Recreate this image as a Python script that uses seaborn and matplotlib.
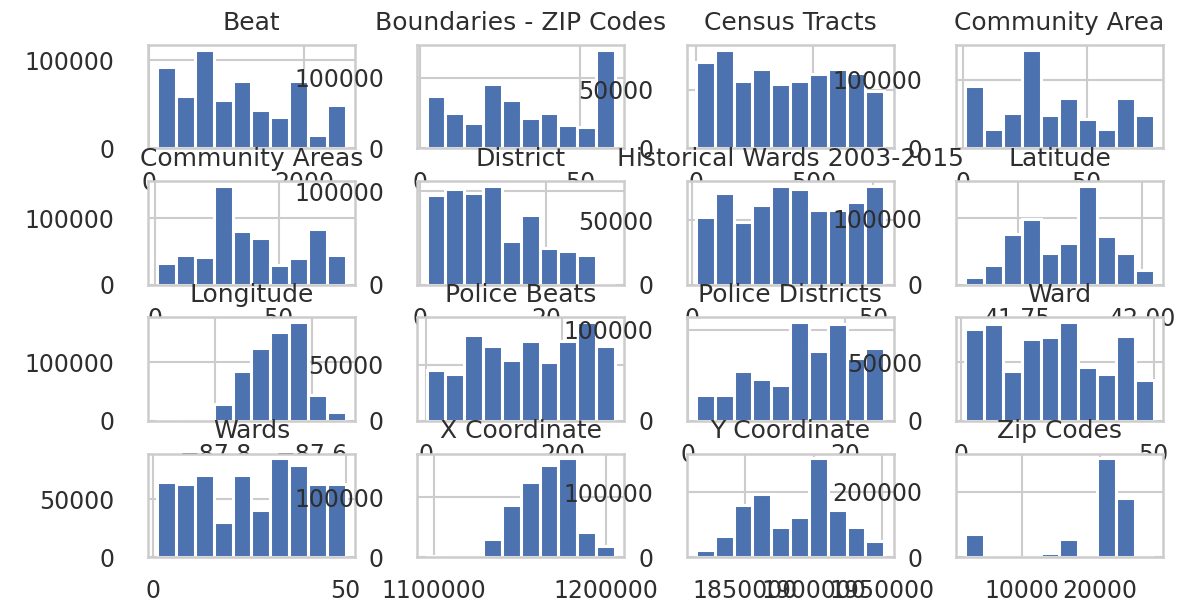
import numpy as np
import pandas as pd
import matplotlib
matplotlib.use("Agg")
import matplotlib.pyplot as plt
import seaborn as sns

# ---- data: one 10-bin histogram per column of the crimes table ----
titles = ["Beat", "Boundaries - ZIP Codes", "Census Tracts", "Community Area",
          "Community Areas", "District", "Historical Wards 2003-2015", "Latitude",
          "Longitude", "Police Beats", "Police Districts", "Ward",
          "Wards", "X Coordinate", "Y Coordinate", "Zip Codes"]

# min / max of each column (the histogram spans this range with 10 equal bins)
range_lo = [111, 2, 1, 1, 1, 1, 1, 41.645, -87.92, 1, 1, 1, 1, 1096000, 1813900, 2700]
range_hi = [2535, 61, 801, 77, 77, 31, 53, 42.023, -87.53, 277, 25, 50, 50, 1205000, 1951600, 26900]

beat = [92200, 59800, 111600, 54800, 76000, 43200, 35100, 76000, 15800, 48700]
zip_boundaries = [74300, 50100, 36700, 91700, 68600, 43500, 50700, 33800, 29900, 139600]
census_tracts = [73800, 84000, 57600, 67700, 55000, 57600, 63700, 67500, 64000, 49400]
community_area = [91100, 27600, 51400, 143100, 48400, 73300, 42100, 27600, 73300, 48400]
community_areas = [33400, 44600, 41100, 148800, 80500, 70300, 29700, 40500, 84600, 44600]
district = [95600, 102800, 98100, 105400, 46600, 74500, 39300, 36300, 31600, 30]
historical_wards = [52700, 71100, 48700, 61800, 76400, 74500, 57900, 57900, 64000, 76400]
latitude = [11800, 29700, 76900, 98500, 47700, 62600, 148800, 73400, 47700, 22600]
longitude = [1200, 300, 400, 28300, 84700, 124400, 152500, 168500, 44100, 15900]
police_beats = [45600, 41800, 77100, 66800, 54400, 71200, 52400, 71200, 88200, 67000]
police_districts = [28400, 28400, 54500, 46200, 38900, 108400, 77100, 106200, 69100, 80000]
ward = [78300, 82500, 42400, 70100, 72000, 84200, 46100, 40200, 72600, 34500]
wards = [65100, 63100, 71200, 30200, 71200, 40400, 85500, 79700, 63100, 63100]
x_coordinate = [1100, 300, 400, 30200, 86100, 125200, 153200, 164400, 41300, 17800]
y_coordinate = [10200, 31900, 79400, 97500, 46400, 61300, 151700, 71700, 46400, 24100]
zip_codes = [69000, 0, 0, 0, 12400, 55700, 0, 301200, 179600, 300]

bin_counts = [beat, zip_boundaries, census_tracts, community_area,
              community_areas, district, historical_wards, latitude,
              longitude, police_beats, police_districts, ward,
              wards, x_coordinate, y_coordinate, zip_codes]

# tick values and labels
x_ticks = [[0, 2000], [0, 50], [0, 500], [0, 50],
           [0, 50], [0, 20], [0, 50], [41.75, 42.00],
           [-87.8, -87.6], [0, 200], [0, 20], [0, 50],
           [0, 50], [1100000, 1200000], [1850000, 1900000, 1950000], [10000, 20000]]
x_tick_labels = [["0", "2000"], ["0", "50"], ["0", "500"], ["0", "50"],
                 ["0", "50"], ["0", "20"], ["0", "50"], ["41.75", "42.00"],
                 ["\u221287.8", "\u221287.6"], ["0", "200"], ["0", "20"], ["0", "50"],
                 ["0", "50"], ["1100000", "1200000"], ["1850000", "1900000", "1950000"],
                 ["10000", "20000"]]
y_ticks = [100000, 100000, 50000, 100000,
           100000, 100000, 50000, 100000,
           100000, 50000, 100000, 50000,
           50000, 100000, 100000, 200000]

# ---- style ----
sns.set_theme(style="whitegrid")
plt.rcParams["font.family"] = ["DejaVu Sans"]
plt.rcParams["axes.edgecolor"] = "0.8"
plt.rcParams["axes.linewidth"] = 1.8
plt.rcParams["grid.color"] = "0.8"
plt.rcParams["grid.linewidth"] = 1.5

bar_color = "#4C72B0"
text_color = "0.18"

fig, axes = plt.subplots(4, 4, figsize=(12.02, 6.05), dpi=100)
fig.subplots_adjust(left=0.123, right=0.9676, top=0.9256, bottom=0.0793,
                    wspace=0.30, hspace=0.316)

for ax, title, lo, hi, counts, xt, xtl, yt in zip(
        axes.flat, titles, range_lo, range_hi, bin_counts,
        x_ticks, x_tick_labels, y_ticks):
    edges = np.linspace(lo, hi, len(counts) + 1)
    frame = pd.DataFrame({"value": (edges[:-1] + edges[1:]) / 2, "count": counts})
    sns.histplot(data=frame, x="value", weights="count", bins=edges.tolist(), ax=ax,
                 color=bar_color, alpha=1, edgecolor="white", linewidth=2.2)
    ax.set_xlabel("")
    ax.set_ylabel("")
    ax.set_xticks(xt)
    ax.set_xticklabels(xtl)
    ax.set_yticks([0, yt])
    ax.set_yticklabels(["0", str(yt)])
    ax.tick_params(axis="x", length=0, pad=16, labelsize=17, labelcolor=text_color)
    ax.tick_params(axis="y", length=0, pad=24, labelsize=17, labelcolor=text_color)
    ax.set_title(title, fontsize=18, pad=11, color=text_color)

fig.savefig("out.png", dpi=100, facecolor="white")
